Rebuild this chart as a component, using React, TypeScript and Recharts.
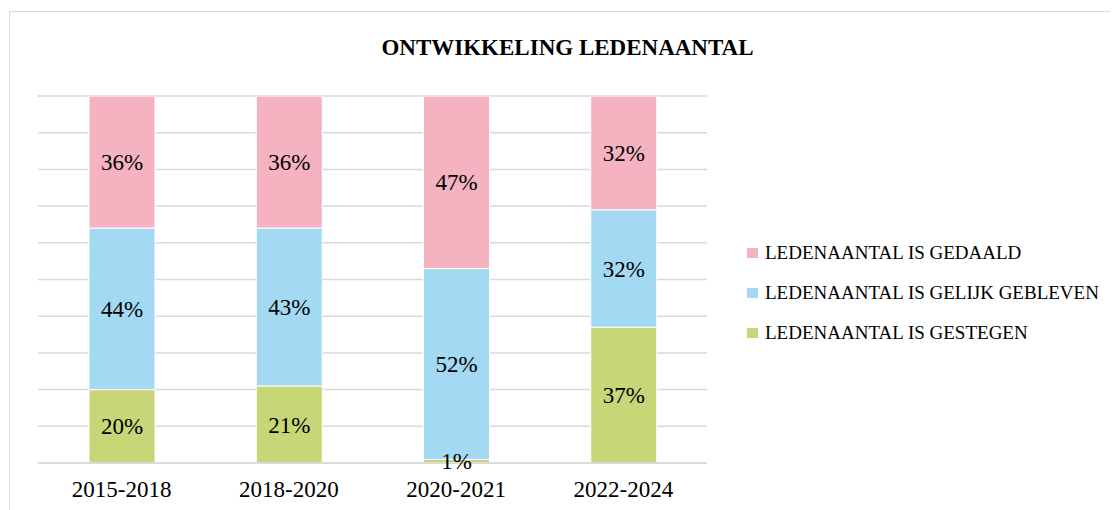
import React from 'react';
import { BarChart, Bar, XAxis, YAxis, CartesianGrid, Legend, LabelList } from 'recharts';

const periods = ['2015-2018', '2018-2020', '2020-2021', '2022-2024'];
const gestegen = [20, 21, 1, 37];
const gelijk = [44, 43, 52, 32];
const gedaald = [36, 36, 47, 32];
const yTicks = [0, 10, 20, 30, 40, 50, 60, 70, 80, 90, 100];

const series = [
  { key: 'gestegen', name: 'LEDENAANTAL IS GESTEGEN', color: '#C7D677' },
  { key: 'gelijk', name: 'LEDENAANTAL IS GELIJK GEBLEVEN', color: '#A3D9F3' },
  { key: 'gedaald', name: 'LEDENAANTAL IS GEDAALD', color: '#F5B3C2' },
];

const data = periods.map((p, i) => ({
  period: p,
  gestegen: gestegen[i],
  gelijk: gelijk[i],
  gedaald: gedaald[i],
}));

const FONT = '"Liberation Serif", "Times New Roman", serif';

const LegendBox = () => (
  <div style={{ fontFamily: FONT, fontSize: 19, color: '#000' }}>
    {[...series].reverse().map((s) => (
      <div key={s.key} style={{ height: 40, lineHeight: '40px', display: 'flex', alignItems: 'center' }}>
        <span style={{ display: 'inline-block', width: 11, height: 10, background: s.color, marginRight: 7 }} />
        <span style={{ whiteSpace: 'nowrap' }}>{s.name}</span>
      </div>
    ))}
  </div>
);

export default function App() {
  return (
    <div
      style={{
        position: 'relative',
        width: 1101,
        height: 502,
        marginLeft: 1,
        marginTop: 3,
        boxSizing: 'border-box',
        borderLeft: '1px solid #d9d9d9',
        borderTop: '1px solid #d9d9d9',
        fontFamily: FONT,
      }}
    >
      <style>{'html,body{overflow:hidden}'}</style>
      <div
        style={{
          position: 'absolute',
          left: 10,
          top: 24,
          width: 1095,
          textAlign: 'center',
          fontSize: 23,
          lineHeight: '23px',
          fontWeight: 'bold',
          color: '#000',
        }}
      >
        ONTWIKKELING LEDENAANTAL
      </div>
      <BarChart
        width={1100}
        height={500}
        data={data}
        margin={{ top: 84, right: 403, left: 28, bottom: 9 }}
        barSize={66}
      >
        <CartesianGrid vertical={false} stroke="#d9d9d9" strokeWidth={1.5} />
        <XAxis
          dataKey="period"
          height={40}
          axisLine={{ stroke: '#d9d9d9', strokeWidth: 1.5 }}
          tickLine={false}
          tickSize={0}
          tickMargin={18}
          tick={{ fill: '#000', fontSize: 23, fontFamily: FONT }}
        />
        <YAxis hide domain={[0, 100]} ticks={yTicks} allowDataOverflow />
        <Legend
          layout="horizontal"
          verticalAlign="middle"
          content={<LegendBox />}
          wrapperStyle={{ left: 737, top: 221, width: 370 }}
        />
        {series.map((s) => (
          <Bar
            key={s.key}
            dataKey={s.key}
            name={s.name}
            stackId="a"
            fill={s.color}
            stroke="#fff"
            strokeWidth={1}
            isAnimationActive={false}
          >
            <LabelList
              dataKey={s.key}
              position="center"
              formatter={(v: number) => `${v}%`}
              style={{ fill: '#000', fontSize: 23, fontFamily: FONT }}
            />
          </Bar>
        ))}
      </BarChart>
    </div>
  );
}
